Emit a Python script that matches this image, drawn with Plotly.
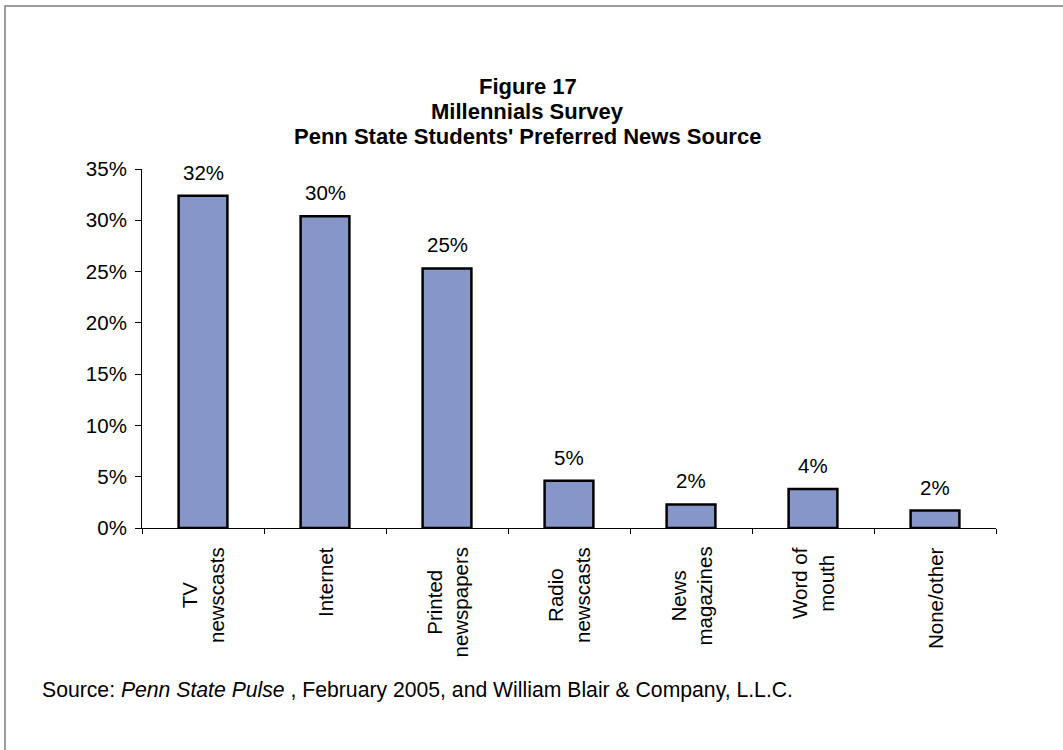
import plotly.graph_objects as go

categories = ["TV newscasts", "Internet", "Printed newspapers", "Radio newscasts",
              "News magazines", "Word of mouth", "None/other"]
category_labels = ["TV<br>newscasts", "Internet", "Printed<br>newspapers", "Radio<br>newscasts",
                   "News<br>magazines", "Word of<br>mouth", "None/other"]
values = [32.4, 30.4, 25.3, 4.6, 2.3, 3.8, 1.7]
y_ticks = [0, 5, 10, 15, 20, 25, 30, 35]
title_lines = ["Figure 17", "Millennials Survey", "Penn State Students' Preferred News Source"]

W, H = 1063, 750
L, R, T, B = 142, 67, 169, 222
pw, ph = W - L - R, H - T - B

def px_x(x):
    return (x - L) / pw

def px_y(y):
    return (H - B - y) / ph

FONT = "Liberation Sans, Arial, sans-serif"
LBL = 20.5

fig = go.Figure()
fig.add_trace(go.Bar(
    x=categories, y=values, width=0.4,
    marker=dict(color="#8796C8", line=dict(color="#000000", width=2.5)),
    hoverinfo="skip",
))

annotations = []
for c, v in zip(categories, values):
    annotations.append(dict(x=c, y=v, xref="x", yref="y", text=f"{round(v):.0f}%",
                            showarrow=False, yanchor="bottom", yshift=10,
                            font=dict(family=FONT, size=LBL, color="#000")))

for c, lab in zip(categories, category_labels):
    annotations.append(dict(x=c, y=px_y(545), xref="x", yref="paper", text=lab,
                            textangle=-90, align="center", xanchor="center", yanchor="top",
                            showarrow=False, font=dict(family=FONT, size=LBL, color="#000")))

for yc, line in zip([87, 111.5, 136], title_lines):
    annotations.append(dict(x=px_x(527.5), y=px_y(yc), xref="paper", yref="paper",
                            text=f"<b>{line}</b>", showarrow=False, xanchor="center",
                            yanchor="middle", font=dict(family=FONT, size=22, color="#000")))

annotations.append(dict(
    x=px_x(40), y=px_y(690), xref="paper", yref="paper", xanchor="left", yanchor="middle",
    text="Source: <i>Penn State Pulse</i> , February 2005, and William Blair &amp; Company, L.L.C.",
    showarrow=False, font=dict(family=FONT, size=21.2, color="#000")))

fig.update_layout(
    width=W, height=H,
    margin=dict(l=L, r=R, t=T, b=B),
    paper_bgcolor="white", plot_bgcolor="white",
    showlegend=False,
    xaxis=dict(showline=True, linecolor="#000", linewidth=1, ticks="outside", ticklen=5,
               tickcolor="#000", tickson="boundaries", showticklabels=False, showgrid=False,
               range=[-0.5, 6.5]),
    yaxis=dict(range=[0, 35], tickvals=y_ticks, ticktext=[f"{t}%" for t in y_ticks],
               showline=True, linecolor="#000", linewidth=1, ticks="outside", ticklen=6,
               tickcolor="#000", showgrid=False, zeroline=False, ticklabelstandoff=4,
               tickfont=dict(family=FONT, size=LBL, color="#000")),
    annotations=annotations,
    shapes=[dict(type="rect", xref="paper", yref="paper",
                 x0=px_x(5), x1=px_x(1080), y0=px_y(770), y1=px_y(6),
                 line=dict(color="#7f7f7f", width=1.5), layer="below")],
)

fig.write_html("out.html", config={"displayModeBar": False},
               post_script="document.body.style.margin='0';")
